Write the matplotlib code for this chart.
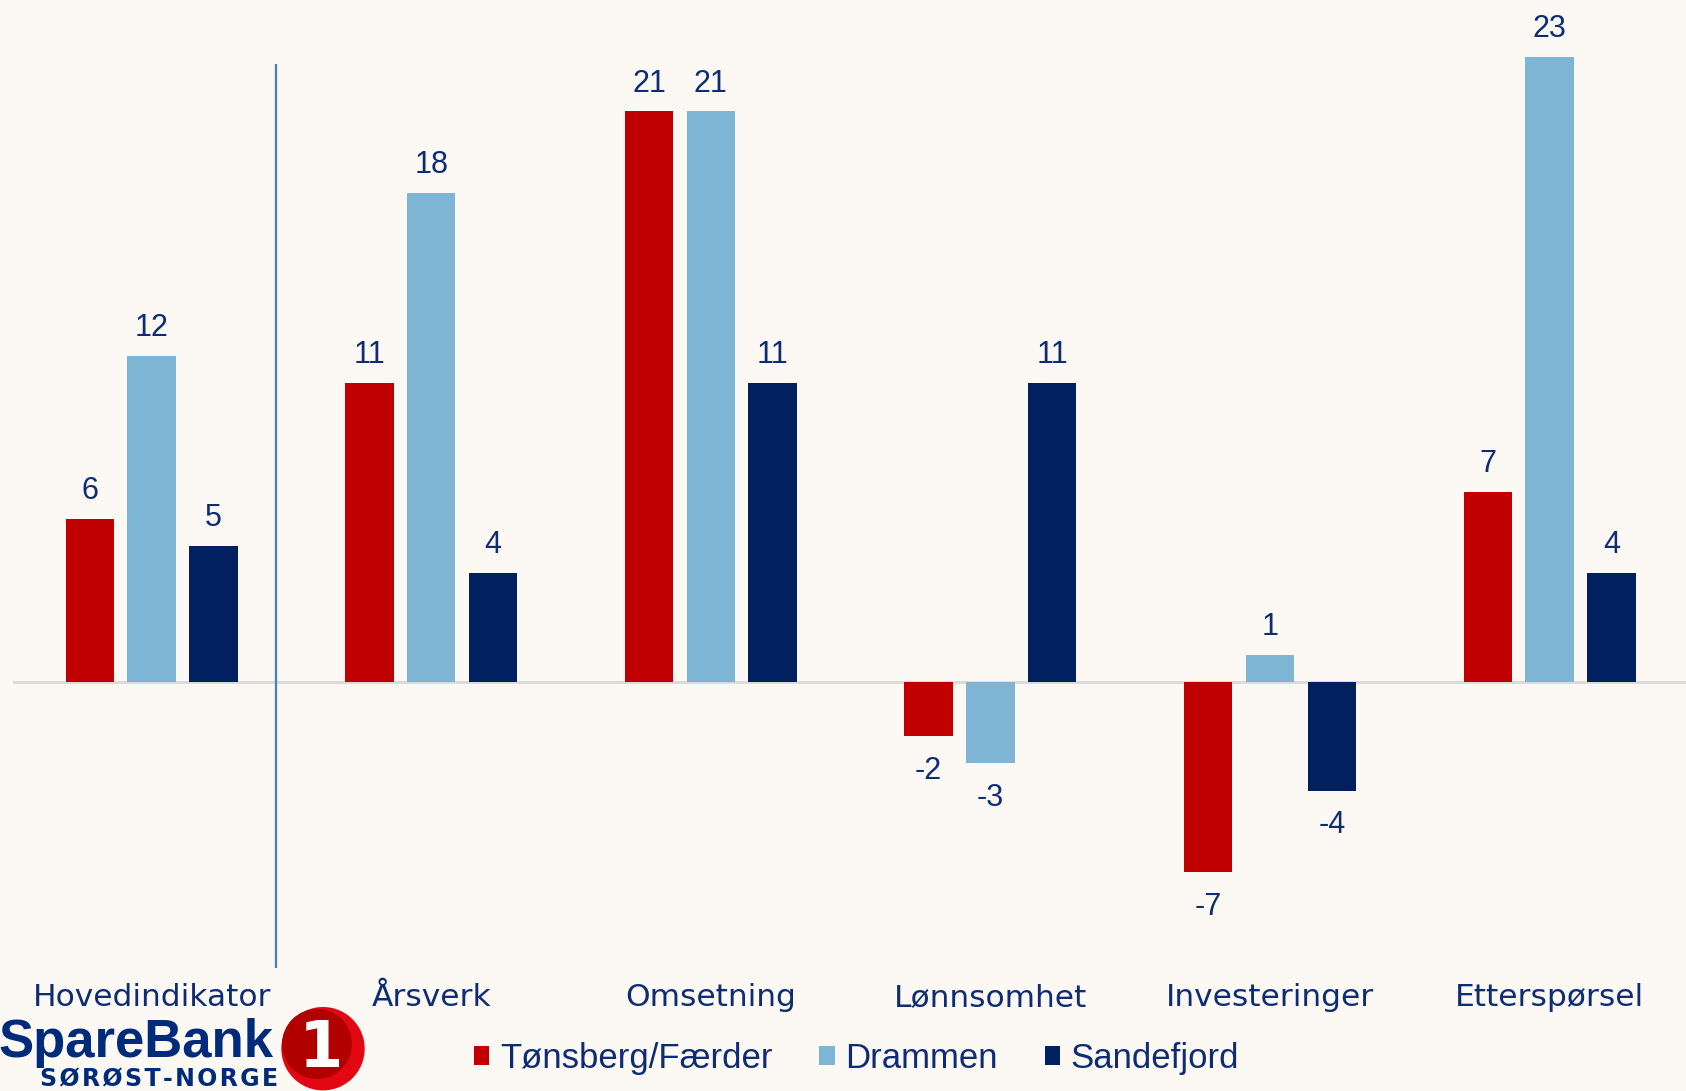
import matplotlib.pyplot as plt
from matplotlib.patches import Circle
import numpy as np

categories = ['Hovedindikator', 'Årsverk', 'Omsetning', 'Lønnsomhet', 'Investeringer', 'Etterspørsel']
tonsberg = [6, 11, 21, -2, -7, 7]
drammen = [12, 18, 21, -3, 1, 23]
sandefjord = [5, 4, 11, 11, -4, 4]
series_names = ['Tønsberg/Færder', 'Drammen', 'Sandefjord']

bg = '#FCF8F4'
red = '#C00000'
light = '#7FB5D4'
navy = '#002060'
txt = '#0D2C74'

fig = plt.figure(figsize=(16.86, 10.91), dpi=100, facecolor=bg)
ax = fig.add_axes([0.0077, 0.1127, 0.9923, 0.8873])
ax.set_facecolor(bg)

x = np.arange(len(categories))
w = 0.173
step = 0.221
bars = []
for i, (vals, col) in enumerate(zip([tonsberg, drammen, sandefjord], [red, light, navy])):
    b = ax.bar(x + (i - 1) * step, vals, width=w, color=col, label=series_names[i], zorder=2)
    bars.append(b)
    for xi, v in zip(x + (i - 1) * step, vals):
        off = 20 if v >= 0 else -25
        ax.annotate(str(v), (xi, v), xytext=(0, off), textcoords='offset points',
                    ha='center', va='center', fontsize=22, color=txt,
                    family='Liberation Sans')

ax.axhline(0, color='#D9D9D9', lw=2, zorder=1)
ax.vlines(0.443, -10.53, 22.73, color='#4A7FB5', lw=1.6, zorder=3)

ax.set_xlim(-0.496, 5.488)
ax.set_ylim(-10.53, 25.10)
for s in ax.spines.values():
    s.set_visible(False)
ax.set_yticks([])
ax.set_xticks(x)
ax.set_xticklabels(categories, fontsize=22.5, color=txt, family='DejaVu Sans')
ax.tick_params(axis='x', length=0, pad=27.5)
for lab in ax.get_xticklabels():
    lab.set_verticalalignment('baseline')

leg = fig.legend(handles=bars, loc='center', bbox_to_anchor=(0.508, 0.030), ncol=3,
                 frameon=False, handlelength=0.45, handleheight=0.45, handletextpad=0.3,
                 columnspacing=1.35, labelcolor=txt,
                 prop={'family': 'Liberation Sans', 'size': 25})

# logo
fig.text(-0.02, 0.34, 'SpareBank', transform=fig.dpi_scale_trans, fontsize=38,
         fontweight='bold', color='#002A7A', family='Liberation Sans', va='baseline')
fig.text(0.40, 0.045, '\u200a'.join('SØRØST-NORGE'), transform=fig.dpi_scale_trans,
         fontsize=17, fontweight='bold', color='#002A7A', family='DejaVu Sans',
         va='baseline')
fig.patches.append(Circle((3.23, 0.423), 0.417, transform=fig.dpi_scale_trans,
                          facecolor='#E30613', edgecolor='none'))
fig.patches.append(Circle((3.17, 0.47), 0.35, transform=fig.dpi_scale_trans,
                          facecolor='#B00000', edgecolor='none'))
fig.text(3.21, 0.42, '1', transform=fig.dpi_scale_trans, fontsize=46, fontweight='bold',
         color='white', family='DejaVu Sans', ha='center', va='center')

plt.savefig('out.png', dpi=100, facecolor=bg)
